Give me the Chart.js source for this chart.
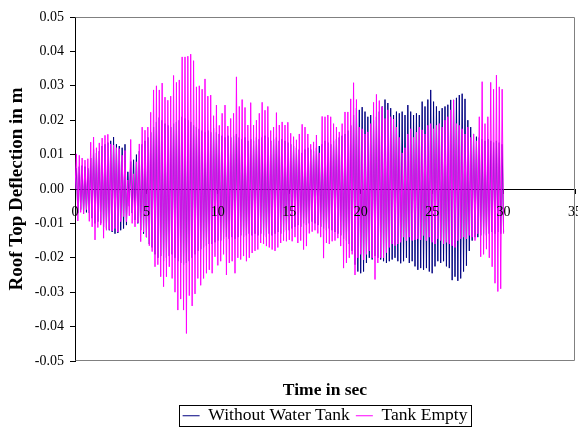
<!DOCTYPE html>
<html>
<head>
<meta charset="utf-8">
<script src="https://cdn.jsdelivr.net/npm/chart.js@4"></script>
<style>
  html, body { margin: 0; padding: 0; background: #ffffff; }
  canvas { display: block; }
</style>
</head>
<body>
<canvas id="chart" width="578" height="444"></canvas>
<script>
// Roof top deflection (m) sampled every 0.1 s from 0 to 30 s
const timeStep = 0.1;

const withoutWaterTank = [0,
  .0060,-.0070,.0065,-.0060,.0068,-.0072,.0065,-.0068,.0060,-.0070,
  .0090,-.0085,.0115,-.0100,.0105,-.0095,.0110,-.0100,.0125,-.0110,
  .0130,-.0115,.0135,-.0120,.0140,-.0125,.0151,-.0130,.0130,-.0128,
  .0125,-.0120,.0120,-.0115,.0130,-.0105,.0050,-.0050,.0080,-.0070,
  .0085,-.0090,.0100,-.0100,.0110,-.0120,.0130,-.0130,.0140,-.0140,
  .0150,-.0160,.0165,-.0170,.0180,-.0190,.0195,-.0200,.0208,-.0195,
  .0200,-.0210,.0190,-.0200,.0185,-.0195,.0180,-.0190,.0190,-.0200,
  .0195,-.0210,.0200,-.0215,.0210,-.0220,.0205,-.0215,.0200,-.0210,
  .0195,-.0200,.0185,-.0190,.0180,-.0180,.0175,-.0175,.0170,-.0170,
  .0165,-.0165,.0170,-.0160,.0165,-.0160,.0177,-.0155,.0165,-.0150,
  .0160,-.0150,.0155,-.0145,.0150,-.0139,.0155,-.0145,.0150,-.0140,
  .0155,-.0145,.0160,-.0140,.0150,-.0135,.0145,-.0140,.0150,-.0135,
  .0140,-.0130,.0145,-.0135,.0140,-.0130,.0150,-.0135,.0145,-.0130,
  .0150,-.0135,.0155,-.0140,.0150,-.0130,.0140,-.0135,.0145,-.0130,
  .0150,-.0125,.0140,-.0130,.0145,-.0125,.0140,-.0120,.0135,-.0120,
  .0130,-.0115,.0125,-.0110,.0120,-.0105,.0115,-.0110,.0105,-.0100,
  .0115,-.0105,.0120,-.0100,.0115,-.0095,.0110,-.0100,.0120,-.0105,
  .0125,-.0110,.0130,-.0115,.0140,-.0120,.0135,-.0115,.0130,-.0120,
  .0140,-.0125,.0145,-.0130,.0150,-.0135,.0155,-.0145,.0160,-.0150,
  .0170,-.0160,.0185,-.0180,.0215,-.0220,.0235,-.0240,.0230,-.0245,
  .0238,-.0240,.0225,-.0215,.0210,-.0200,.0215,-.0205,.0200,-.0195,
  .0210,-.0200,.0225,-.0205,.0240,-.0210,.0260,-.0215,.0250,-.0210,
  .0235,-.0205,.0215,-.0200,.0225,-.0210,.0220,-.0216,.0225,-.0210,
  .0215,-.0200,.0244,-.0215,.0225,-.0210,.0215,-.0225,.0220,-.0235,
  .0215,-.0230,.0254,-.0235,.0240,-.0230,.0260,-.0240,.0288,-.0245,
  .0254,-.0225,.0240,-.0210,.0227,-.0215,.0235,-.0210,.0240,-.0225,
  .0245,-.0230,.0259,-.0265,.0259,-.0255,.0265,-.0267,.0273,-.0260,
  .0277,-.0240,.0262,-.0223,.0200,-.0180,.0180,-.0150,.0160,-.0140,
  .0152,-.0140,.0150,-.0135,.0145,-.0130,.0140,-.0135,.0145,-.0130,
  .0140,-.0125,.0135,-.0130,.0140,-.0125,.0135,-.0130,.0130,-.0125
];

const tankEmpty = [0,
  .0102,-.0093,.0098,-.0068,.0090,-.0072,.0084,-.0060,.0088,-.0094,
  .0136,-.0110,.0151,-.0148,.0120,-.0112,.0134,-.0105,.0148,-.0143,
  .0156,-.0120,.0159,-.0118,.0131,-.0122,.0128,-.0115,.0120,-.0125,
  .0117,-.0095,.0098,-.0080,.0112,-.0095,.0026,-.0078,.0144,-.0100,
  .0044,-.0110,.0079,-.0098,.0131,-.0153,.0180,-.0125,.0171,-.0140,
  .0180,-.0165,.0223,-.0182,.0288,-.0226,.0300,-.0220,.0288,-.0255,
  .0308,-.0284,.0267,-.0255,.0258,-.0226,.0270,-.0260,.0330,-.0300,
  .0310,-.0352,.0317,-.0320,.0384,-.0352,.0384,-.0420,.0386,-.0310,
  .0392,-.0340,.0373,-.0305,.0297,-.0260,.0300,-.0280,.0290,-.0260,
  .0320,-.0245,.0270,-.0235,.0273,-.0245,.0213,-.0197,.0244,-.0222,
  .0185,-.0210,.0220,-.0190,.0244,-.0250,.0183,-.0215,.0205,-.0210,
  .0220,-.0245,.0326,-.0200,.0240,-.0205,.0260,-.0195,.0237,-.0210,
  .0186,-.0200,.0251,-.0186,.0186,-.0180,.0200,-.0176,.0220,-.0157,
  .0252,-.0160,.0229,-.0166,.0240,-.0170,.0170,-.0176,.0180,-.0180,
  .0222,-.0170,.0186,-.0157,.0195,-.0150,.0186,-.0152,.0194,-.0148,
  .0162,-.0152,.0152,-.0140,.0143,-.0157,.0160,-.0150,.0188,-.0176,
  .0180,-.0166,.0160,-.0129,.0130,-.0124,.0137,-.0120,.0157,-.0129,
  .0105,-.0140,.0211,-.0201,.0210,-.0157,.0215,-.0160,.0210,-.0152,
  .0190,-.0150,.0180,-.0143,.0166,-.0166,.0190,-.0230,.0224,-.0215,
  .0224,-.0200,.0262,-.0190,.0309,-.0250,.0260,-.0200,.0180,-.0190,
  .0175,-.0206,.0160,-.0190,.0166,-.0180,.0190,-.0200,.0252,-.0263,
  .0275,-.0215,.0257,-.0200,.0239,-.0200,.0205,-.0185,.0230,-.0170,
  .0210,-.0160,.0203,-.0165,.0180,-.0160,.0150,-.0155,.0105,-.0140,
  .0120,-.0150,.0160,-.0140,.0175,-.0150,.0150,-.0148,.0165,-.0145,
  .0180,-.0148,.0172,-.0135,.0160,-.0150,.0185,-.0140,.0190,-.0155,
  .0175,-.0160,.0185,-.0145,.0190,-.0150,.0180,-.0160,.0200,-.0155,
  .0210,-.0160,.0230,-.0165,.0259,-.0170,.0190,-.0150,.0185,-.0145,
  .0175,-.0140,.0160,-.0145,.0180,-.0135,.0150,-.0140,.0160,-.0150,
  .0140,-.0130,.0210,-.0197,.0312,-.0190,.0190,-.0175,.0210,-.0200,
  .0310,-.0226,.0290,-.0274,.0331,-.0298,.0297,-.0290,.0290,-.0130
];

const xTickValues = [0, 5, 10, 15, 20, 25, 30, 35];
const yTickValues = [-0.05, -0.04, -0.03, -0.02, -0.01, 0, 0.01, 0.02, 0.03, 0.04, 0.05];

const seriesNames = ['Without Water Tank', 'Tank Empty'];
const seriesColors = ['#000080', '#FF00FF'];

const serif = '"Liberation Serif", "Times New Roman", serif';

function toPoints(values) {
  return values.map((v, i) => ({ x: +(i * timeStep).toFixed(1), y: v }));
}

// Grey frame on the top, right and bottom of the plot area
const plotFrame = {
  id: 'plotFrame',
  beforeDatasetsDraw(chart) {
    const { ctx, chartArea: a } = chart;
    ctx.save();
    ctx.strokeStyle = '#808080';
    ctx.lineWidth = 1;
    ctx.beginPath();
    ctx.moveTo(Math.round(a.left) + 0.5, Math.round(a.top) + 0.5);
    ctx.lineTo(Math.round(a.right) - 0.5, Math.round(a.top) + 0.5);
    ctx.lineTo(Math.round(a.right) - 0.5, Math.round(a.bottom) - 0.5);
    ctx.lineTo(Math.round(a.left) + 0.5, Math.round(a.bottom) - 0.5);
    ctx.stroke();
    ctx.restore();
  }
};

// Thin black box round the legend entries
const legendBox = {
  id: 'legendBox',
  afterDraw(chart) {
    const boxes = chart.legend && chart.legend.legendHitBoxes;
    if (!boxes || !boxes.length) return;
    let l = Infinity, r = -Infinity, t = Infinity, b = -Infinity;
    boxes.forEach(h => {
      l = Math.min(l, h.left); r = Math.max(r, h.left + h.width);
      t = Math.min(t, h.top); b = Math.max(b, h.top + h.height);
    });
    const ctx = chart.ctx;
    ctx.save();
    ctx.strokeStyle = '#000000';
    ctx.lineWidth = 1;
    ctx.strokeRect(Math.round(l - 4) + 0.5, Math.round(t - 2) + 0.5,
                   Math.round(r - l + 7), Math.round(b - t + 3));
    ctx.restore();
  }
};

new Chart(document.getElementById('chart'), {
  type: 'line',
  data: {
    datasets: [
      {
        label: seriesNames[0],
        data: toPoints(withoutWaterTank),
        borderColor: seriesColors[0],
        backgroundColor: seriesColors[0],
        borderWidth: 1,
        pointRadius: 0,
        tension: 0,
        order: 1
      },
      {
        label: seriesNames[1],
        data: toPoints(tankEmpty),
        borderColor: seriesColors[1],
        backgroundColor: seriesColors[1],
        borderWidth: 1,
        pointRadius: 0,
        tension: 0,
        order: 0
      }
    ]
  },
  options: {
    responsive: false,
    animation: false,
    events: [],
    layout: { padding: { top: 17, right: 3, left: 0, bottom: 9.5 } },
    scales: {
      x: {
        type: 'linear',
        position: { y: 0 },
        min: 0,
        max: 35,
        afterBuildTicks: s => { s.ticks = xTickValues.map(v => ({ value: v })); },
        afterFit: s => { s.paddingLeft = 0; s.paddingRight = 0; },
        grid: { display: true, drawOnChartArea: false, drawTicks: true, tickLength: 4, color: '#000000' },
        border: { display: true, color: '#000000', width: 1 },
        ticks: {
          z: 1,
          padding: 11,
          maxRotation: 0,
          autoSkip: false,
          color: '#000000',
          font: { family: serif, size: 14 },
          callback: v => String(v)
        }
      },
      y: {
        type: 'linear',
        position: 'left',
        min: -0.05,
        max: 0.05,
        afterBuildTicks: s => { s.ticks = yTickValues.map(v => ({ value: v })); },
        afterFit: s => { s.width = 75; },
        grid: { display: true, drawOnChartArea: false, drawTicks: true, tickLength: 5, color: '#000000' },
        border: { display: true, color: '#000000', width: 1 },
        ticks: {
          padding: 6,
          color: '#000000',
          font: { family: serif, size: 14 },
          callback: v => Number(v).toFixed(2)
        },
        title: {
          display: true,
          text: 'Roof Top Deflection in m',
          color: '#000000',
          font: { family: serif, size: 19, weight: 'bold' },
          padding: { top: 6, bottom: 0 }
        }
      }
    },
    plugins: {
      title: {
        display: true,
        position: 'bottom',
        text: 'Time in sec',
        fullSize: false,
        weight: 500,
        color: '#000000',
        font: { family: serif, size: 17.5, weight: 'bold' },
        padding: { top: 19, bottom: 0 }
      },
      legend: {
        display: true,
        position: 'bottom',
        fullSize: false,
        weight: 1000,
        reverse: true,
        labels: {
          color: '#000000',
          font: { family: serif, size: 17.5 },
          usePointStyle: true,
          pointStyle: 'line',
          pointStyleWidth: 17,
          padding: 6
        }
      },
      tooltip: { enabled: false }
    }
  },
  plugins: [plotFrame, legendBox]
});
</script>
</body>
</html>
